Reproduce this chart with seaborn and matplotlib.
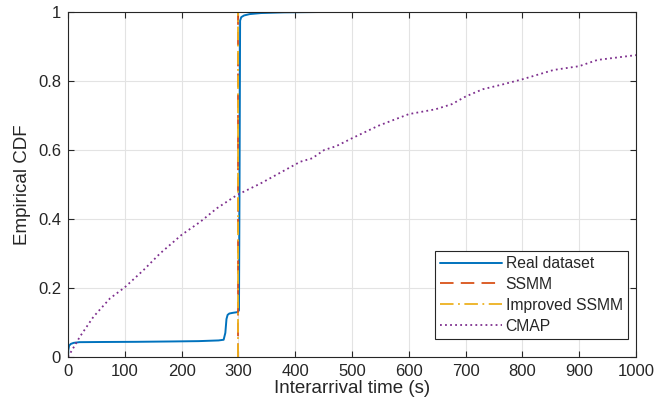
import numpy as np
import pandas as pd
import matplotlib
matplotlib.use("Agg")
import matplotlib.pyplot as plt
import seaborn as sns

# ---- data ----
real_x = [0, 0.5, 2, 5, 10, 20, 60, 120, 180, 230, 265, 274, 277, 279, 281, 284,
          290, 298, 301, 302, 303, 305, 310, 320, 340, 380, 445]
real_y = [0, 0.02, 0.033, 0.038, 0.041, 0.043, 0.0435, 0.044, 0.045, 0.046, 0.048,
          0.05, 0.07, 0.11, 0.122, 0.126, 0.128, 0.13, 0.135, 0.5, 0.975, 0.985,
          0.99, 0.994, 0.997, 0.999, 1.0]

ssmm_x = [300, 300]
ssmm_y = [0, 1]

imp_x = [300, 300]
imp_y = [0, 1]

cmap_x = [0, 21, 45, 74, 100, 133, 162, 200, 233, 262, 298, 339, 409, 430, 451,
          472, 500, 546, 600, 647, 676, 700, 730, 765, 800, 855, 900, 932, 1000]
cmap_y = [0, 0.059, 0.117, 0.17, 0.202, 0.252, 0.30, 0.354, 0.392, 0.431, 0.47,
          0.503, 0.566, 0.576, 0.60, 0.611, 0.634, 0.670, 0.704, 0.718, 0.733,
          0.755, 0.776, 0.79, 0.805, 0.832, 0.843, 0.861, 0.875]

series_names = ["Real dataset", "SSMM", "Improved SSMM", "CMAP"]
x_ticks = [0, 100, 200, 300, 400, 500, 600, 700, 800, 900, 1000]
y_ticks = [0, 0.2, 0.4, 0.6, 0.8, 1]
y_tick_labels = ["0", "0.2", "0.4", "0.6", "0.8", "1"]

# ---- styling ----
sns.set_theme(style="whitegrid")
plt.rcParams["font.family"] = ["Liberation Sans", "DejaVu Sans"]
axcol = "#262626"

fig = plt.figure(figsize=(6.54, 4.09), dpi=100)
ax = fig.add_axes([68 / 654, 1 - 357 / 409, (636 - 68) / 654, (357 - 12) / 409])

colors = ["#0072BD", "#D95319", "#EDB120", "#7E2F8E"]
datasets = [(real_x, real_y), (ssmm_x, ssmm_y), (imp_x, imp_y), (cmap_x, cmap_y)]
styles = [dict(linestyle="-", linewidth=1.4),
          dict(dashes=(7.5, 4), linewidth=1.3),
          dict(dashes=(7.5, 2.5, 1, 2.5), linewidth=1.3),
          dict(linestyle=(0, (1, 1.8)), linewidth=1.3)]

for name, (xs, ys), c, st in zip(series_names, datasets, colors, styles):
    df = pd.DataFrame({"x": xs, "y": ys})
    sns.lineplot(data=df, x="x", y="y", ax=ax, color=c, label=name,
                 sort=False, estimator=None, **st)

ax.set_xlim(0, 1000)
ax.set_ylim(0, 1)
ax.set_xticks(x_ticks)
ax.set_yticks(y_ticks)
ax.set_yticklabels(y_tick_labels)
ax.set_xlabel("Interarrival time (s)", fontsize=13.5, color=axcol, labelpad=1)
ax.set_ylabel("Empirical CDF", fontsize=13.5, color=axcol, labelpad=5)

ax.grid(True, color="#E3E3E3", linewidth=0.8)
for s in ax.spines.values():
    s.set_visible(True)
    s.set_color(axcol)
    s.set_linewidth(0.8)
ax.tick_params(direction="in", length=4, width=0.8, colors=axcol,
               labelsize=12, top=True, right=True, bottom=True, left=True,
               labelcolor=axcol, pad=5)

leg = ax.legend(loc="lower right", bbox_to_anchor=(0.986, 0.052),
                fontsize=11.3, handlelength=3.9,
                frameon=True, fancybox=False, borderaxespad=0,
                labelspacing=0.37, handletextpad=0.25, borderpad=0.35)
leg.get_frame().set_edgecolor(axcol)
leg.get_frame().set_linewidth(0.8)
leg.get_frame().set_alpha(1)

fig.savefig("out.png", dpi=100)
